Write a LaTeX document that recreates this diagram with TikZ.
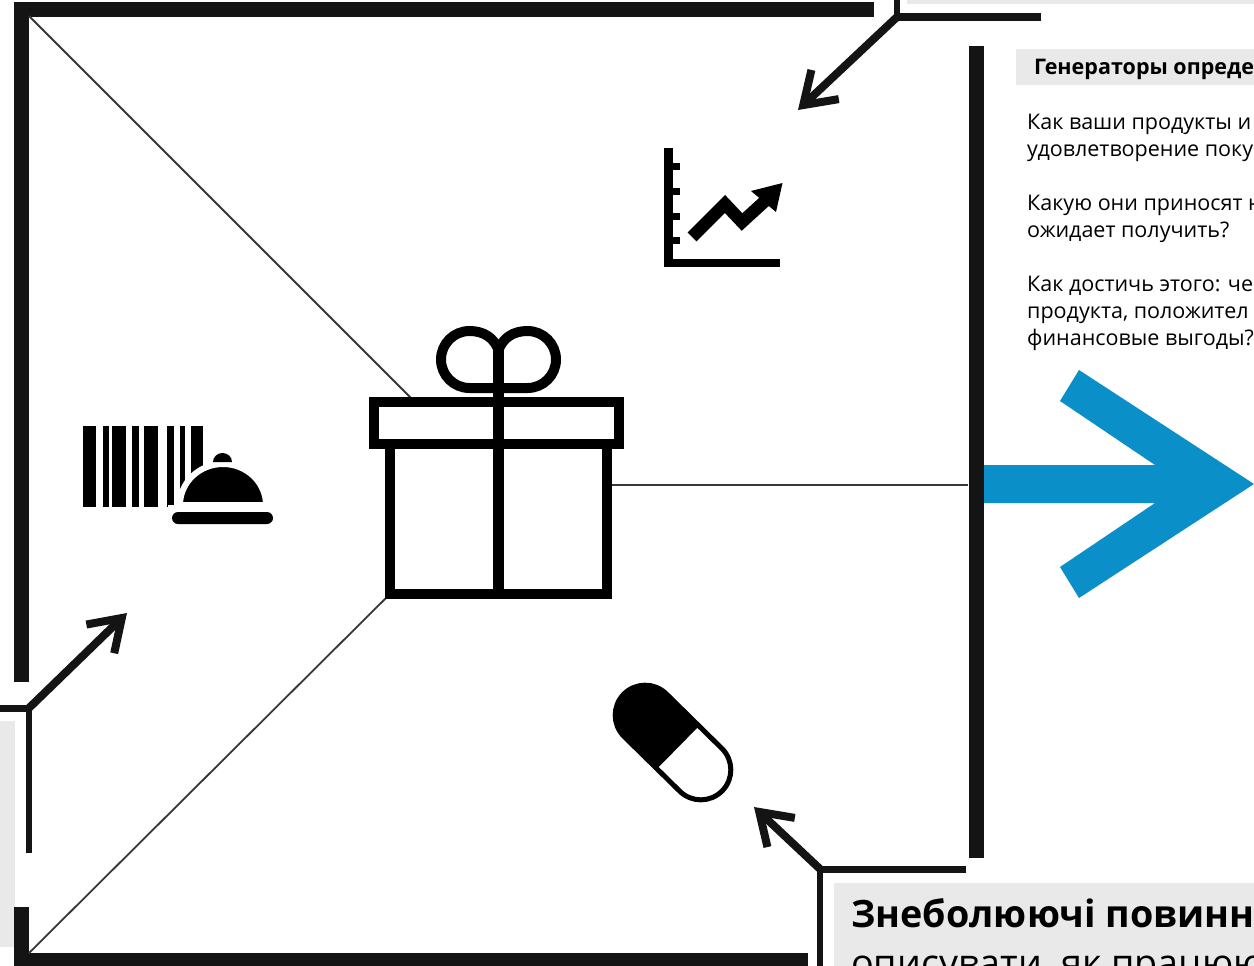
\documentclass[tikz,border=0pt]{standalone}
\usepackage{fontspec}
\setmainfont{Open Sans}
\usetikzlibrary{arrows.meta}
\definecolor{ink}{HTML}{141414}
\definecolor{panel}{HTML}{E9E9E9}
\definecolor{blueway}{HTML}{0A8FC9}
\tikzset{
  wall/.style={line width=15pt,draw=ink},
  leader/.style={line width=6.5pt,draw=ink},
  thin/.style={line width=1.8pt,draw=ink!85},
  pointer/.style={line width=8pt,draw=ink,-{Straight Barb[length=30pt,width=40pt,line width=8pt]}},
  icon/.style={line width=10pt,draw=black},
  panelbox/.style={fill=panel,draw=none},
  body/.style={anchor=base west,inner sep=0pt,font=\fontsize{21.5}{26}\selectfont,text=black},
  headline/.style={anchor=base west,inner sep=0pt,font=\fontsize{21.5}{26}\selectfont\bfseries,text=black},
  big/.style={anchor=base west,inner sep=0pt,font=\fontsize{37.7}{45}\selectfont,text=black},
}
\begin{document}
\begin{tikzpicture}[x=1pt,y=-1pt]
\useasboundingbox (0,0) rectangle (1254,966);
\clip (0,0) rectangle (1254,966);
\fill[white] (0,0) rectangle (1254,966);
% panels
\fill[panelbox] (907,0) rectangle (1254,4);
\fill[panelbox] (1016,49) rectangle (1254,85);
\fill[panelbox] (0,721) rectangle (15,947);
\fill[panelbox] (834,883) rectangle (1254,966);
% walls
\coordinate (tl) at (21,10);
\coordinate (tr) at (874,10);
\coordinate (lb) at (21,682);
\coordinate (bl1) at (21,907);
\coordinate (bl) at (21,960);
\coordinate (br) at (808,960);
\coordinate (rt) at (976,46);
\coordinate (rb) at (976,858);
\draw[wall] (tr) -- (14,10);
\draw[wall] (tl) -- (lb);
\draw[wall] (bl1) -- (bl);
\draw[wall] (14,960) -- (br);
\draw[wall] (rt) -- (rb);
% thin diagonals
\coordinate (c1) at (29,16);
\coordinate (g1) at (411,398);
\coordinate (c2) at (29,953);
\coordinate (g2) at (386,598);
\coordinate (g3) at (612,485);
\coordinate (c3) at (968,485);
\draw[thin] (c1) -- (g1);
\draw[thin] (c2) -- (g2);
\draw[thin] (g3) -- (c3);
% gift
\draw[icon,miter limit=10] (390,443) -- (390,594) -- (607,594) -- (607,443);
\draw[icon] (374,402) rectangle (619,443.5);
\draw[line width=11pt,draw=black] (498.5,345) -- (498.5,594);
\draw[icon] (498.5,388) -- (469.5,388) arc[start angle=90,end angle=270,radius=28.5] .. controls (484,331) and (494,338) .. (498.5,350);
\draw[icon] (498.5,388) -- (527.5,388) arc[start angle=90,end angle=-90,radius=28.5] .. controls (513,331) and (503,338) .. (498.5,350);
% chart
\fill[black] (664,148) rectangle (672.5,267);
\fill[black] (664,258.5) rectangle (780,267);
\foreach \ty in {166,191,216,240} \fill[black] (670,\ty-3.5) rectangle (680,\ty+3.5);
\draw[line width=12.5pt,draw=black,miter limit=10] (692,237) -- (725,204) -- (742,222) -- (765,201);
\fill[black] (782.5,183) -- (751,191) -- (776,212) -- cycle;
% barcode
\foreach \xa/\xb in {83/96,103/109,112/126,132/139,144/158,167/174,180/185,191/203}
  \fill[black] (\xa,426) rectangle (\xb,507);
\fill[black,draw=white,line width=6pt] (180,505) arc[start angle=180,end angle=360,x radius=43,y radius=41] -- cycle;
\fill[white] (168,505) rectangle (277,512);
\fill[black] (213,462) arc[start angle=180,end angle=360,x radius=9.5,y radius=9] -- cycle;
\fill[black,rounded corners=6pt] (172,512) rectangle (273,524);
% pill
\begin{scope}[shift={(673,742.5)},rotate=-44.5]
\fill[black] (7,-30) -- (-39,-30) arc[start angle=270,end angle=90,radius=30] -- (7,30) -- cycle;
\draw[line width=5pt,draw=black] (-39,-30) -- (39,-30) arc[start angle=-90,end angle=90,radius=30] -- (-39,30) arc[start angle=90,end angle=270,radius=30] -- cycle;
\end{scope}
% leaders
\coordinate (j1) at (897,17);
\coordinate (j1a) at (897,0);
\coordinate (j1b) at (1041,17);
\coordinate (t1) at (798,110);
\draw[leader] (j1a) -- (j1);
\draw[line width=8pt,draw=ink] (j1) -- (j1b);
\draw[pointer] (j1) -- (t1);
\coordinate (j2) at (29,708);
\coordinate (j2a) at (0,708);
\coordinate (j2b) at (29,853);
\coordinate (t2) at (127,613);
\draw[line width=7pt,draw=ink] (j2a) -- (j2);
\draw[leader] (j2) -- (j2b);
\draw[pointer] (j2) -- (t2);
\coordinate (j3) at (820,869);
\coordinate (j3a) at (966,869);
\coordinate (j3b) at (820,966);
\coordinate (t3) at (754,807);
\draw[line width=7pt,draw=ink] (j3) -- (j3a);
\draw[leader] (j3) -- (j3b);
\draw[pointer] (j3) -- (t3);
% blue arrow
\fill[blueway] (984,465) -- (1155,465) -- (1060,401) -- (1079,370) -- (1254,484) -- (1079,598) -- (1060,567) -- (1155,503) -- (984,503) -- cycle;
% text
\node[headline] (h1) at (1034,74.5) {Генераторы опреде};
\node[body] (t11) at (1027,129.5) {Как ваши продукты и};
\node[body] (t12) at (1027,156.5) {удовлетворение поку};
\node[body] (t13) at (1027,210.5) {Какую они приносят н};
\node[body] (t14) at (1027,237.5) {ожидает получить?};
\node[body] (t15) at (1027,291.5) {Как достичь этого: че};
\node[body] (t16) at (1027,318.5) {продукта, положител};
\node[body] (t17) at (1027,345.5) {финансовые выгоды?};
\node[big] (b1) at (851,927) {\bfseries Знеболюючі повинн};
\node[big] (b2) at (851,976) {описувати, як працюю};
\end{tikzpicture}
\end{document}
